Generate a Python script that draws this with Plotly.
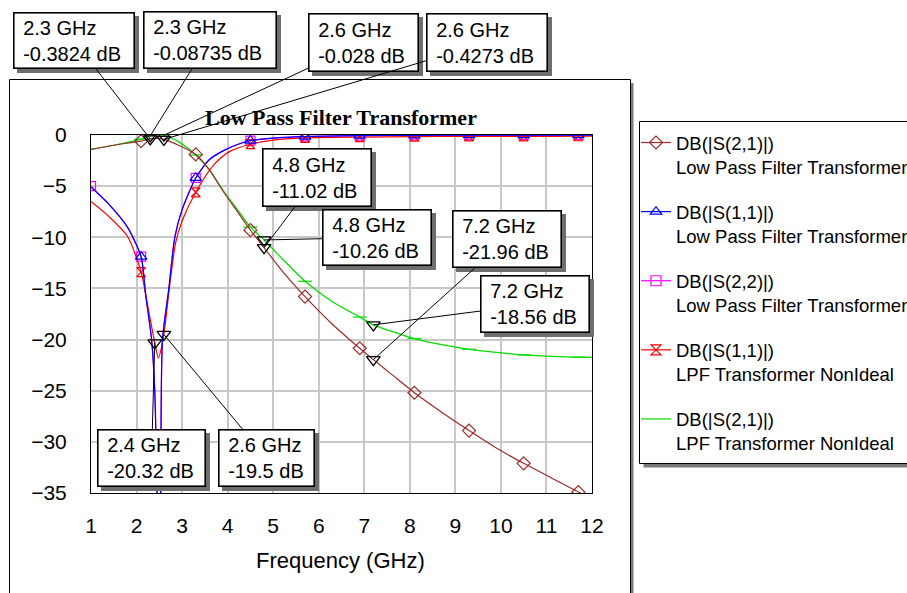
import plotly.graph_objects as go

SANS = "Liberation Sans, Arial, sans-serif"
SERIF = "Liberation Serif, Times New Roman, serif"

# ---------------------------------------------------------------- data
# Ideal model: "Low Pass Filter Transformer"
ideal_s21_f = [1.0, 1.5, 2.1, 2.3, 2.45, 2.6, 2.9, 3.3, 3.6, 3.9, 4.2, 4.5, 4.8,
               5.2, 5.7, 6.3, 6.9, 7.2, 7.6, 8.1, 8.7, 9.3, 9.9, 10.5, 11.1, 11.7, 12.0]
ideal_s21_db = [-1.4, -1.0, -0.6, -0.3824, -0.33, -0.4273, -0.95, -1.9, -3.4, -5.5, -7.4,
                -9.3, -11.02, -13.3, -15.8, -18.5, -20.85, -21.96, -23.4, -25.2, -27.1,
                -28.9, -30.6, -32.1, -33.5, -34.9, -35.5]

ideal_s11_f = [1.0, 1.4, 1.8, 2.1, 2.2, 2.33, 2.4, 2.45, 2.49, 2.53, 2.57, 2.71, 2.84,
               3.0, 3.3, 3.6, 3.9, 4.2, 4.5, 5.0, 5.7, 6.9, 8.1, 9.3, 10.5, 11.7, 12.0]
ideal_s11_db = [-5.1, -6.8, -9.0, -11.9, -15.6, -20.0, -25.0, -35.0, -45.0, -35.0, -20.0,
                -15.0, -10.0, -7.3, -4.2, -2.4, -1.55, -0.95, -0.55, -0.3, -0.15, -0.06,
                -0.03, -0.02, -0.01, -0.01, -0.01]

ideal_s22_f = [1.0, 1.4, 1.8, 2.1, 2.2, 2.33, 2.4, 2.45, 2.49, 2.53, 2.57, 2.71, 2.84,
               3.0, 3.3, 3.6, 3.9, 4.2, 4.5, 5.0, 5.7, 6.9, 8.1, 9.3, 10.5, 11.7, 12.0]
ideal_s22_db = [-5.0, -6.8, -9.0, -11.9, -15.6, -20.0, -25.0, -35.0, -45.0, -35.0, -20.0,
                -15.0, -10.0, -7.3, -4.2, -2.4, -1.55, -0.95, -0.55, -0.3, -0.15, -0.06,
                -0.03, -0.02, -0.01, -0.01, -0.01]

# Non-ideal model: "LPF Transformer NonIdeal"
nonideal_s11_f = [1.0, 1.4, 1.8, 2.1, 2.25, 2.4, 2.48, 2.6, 2.72, 2.86, 3.0, 3.3, 3.7,
                  4.05, 4.5, 5.0, 5.7, 6.9, 8.1, 9.3, 10.5, 11.7, 12.0]
nonideal_s11_db = [-6.5, -8.0, -9.9, -13.4, -16.8, -20.32, -21.8, -19.5, -15.0, -10.5,
                   -8.4, -5.6, -2.9, -1.6, -0.9, -0.5, -0.28, -0.2, -0.16, -0.14, -0.13,
                   -0.12, -0.12]

nonideal_s21_f = [1.0, 1.5, 2.1, 2.3, 2.6, 2.9, 3.3, 3.6, 3.9, 4.2, 4.5, 4.8, 5.2, 5.7,
                  6.3, 6.9, 7.2, 7.6, 8.1, 8.7, 9.3, 9.9, 10.5, 11.1, 11.7, 12.0]
nonideal_s21_db = [-1.4, -1.0, -0.4, -0.08735, -0.028, -0.6, -1.95, -3.4, -5.4, -7.2,
                   -9.0, -10.26, -12.1, -14.3, -16.3, -17.8, -18.56, -19.2, -19.9, -20.5,
                   -20.95, -21.25, -21.5, -21.65, -21.72, -21.75]

# frequencies carrying trace symbols
symbol_f = [2.1, 3.3, 4.5, 5.7, 6.9, 8.1, 9.3, 10.5, 11.7]
s22_symbol_f = [1.0] + symbol_f

# readout markers (frequency, value)
readout_f = [2.3, 2.3, 2.6, 2.6, 4.8, 4.8, 7.2, 7.2, 2.4, 2.6]
readout_db = [-0.3824, -0.08735, -0.028, -0.4273, -11.02, -10.26, -21.96, -18.56,
              -20.32, -19.5]

legend_names = [
    "DB(|S(2,1)|)<br>Low Pass Filter Transformer",
    "DB(|S(1,1)|)<br>Low Pass Filter Transformer",
    "DB(|S(2,2)|)<br>Low Pass Filter Transformer",
    "DB(|S(1,1)|)<br>LPF Transformer NonIdeal",
    "DB(|S(2,1)|)<br>LPF Transformer NonIdeal",
]

x_ticks = list(range(1, 13))
y_ticks = list(range(-35, 1, 5))

# ---------------------------------------------------------------- geometry
W, H = 907, 593
ML, MR, MT, MB = 91, 315, 135, 100
L, R, T, B = ML, W - MR, MT, H - MB
X0, X1, Y0, Y1 = 1, 12, -35, 0


def paper_x(px):
    return (px - L) / (R - L)


def paper_y(py):
    return (B - py) / (B - T)


def data_x(px):
    return X0 + (px - L) / (R - L) * (X1 - X0)


def data_y(py):
    return Y1 - (py - T) / (B - T) * (Y1 - Y0)


def pick(fs, dbs, marks):
    lookup = dict(zip(fs, dbs))
    return [lookup[m] for m in marks]


BROWN = "#9b2b2b"
BLUE = "#0000ff"
MAGENTA = "#ff00ff"
RED = "#ff0000"
GREEN = "#00dd00"

fig = go.Figure()

# legend entries
legend_styles = [
    (BROWN, "diamond-open", "lines+markers"),
    (BLUE, "triangle-up-open", "lines+markers"),
    (MAGENTA, "square-open", "lines+markers"),
    (RED, "hourglass-open", "lines+markers"),
    (GREEN, "line-ew-open", "lines"),
]
for i, (name, (col, sym, mode)) in enumerate(zip(legend_names, legend_styles)):
    fig.add_trace(go.Scatter(
        x=[None], y=[None], mode=mode, name=name, legendgroup=f"g{i}",
        line=dict(color=col, width=1.2),
        marker=dict(symbol=sym, size=10, color=col, line=dict(color=col, width=1.2)),
    ))

series = [
    (ideal_s22_f, ideal_s22_db, MAGENTA, "square-open", s22_symbol_f, 9),
    (nonideal_s11_f, nonideal_s11_db, RED, "hourglass-open", symbol_f, 9),
    (ideal_s11_f, ideal_s11_db, BLUE, "triangle-up-open", symbol_f, 10),
    (nonideal_s21_f, nonideal_s21_db, GREEN, "line-ew-open", symbol_f, 10),
    (ideal_s21_f, ideal_s21_db, BROWN, "diamond-open", symbol_f, 10),
]
for fs, dbs, col, sym, marks, size in series:
    fig.add_trace(go.Scatter(
        x=fs, y=dbs, mode="lines", showlegend=False, hoverinfo="skip",
        line=dict(color=col, width=1.2, shape="spline", smoothing=0.7),
    ))
    fig.add_trace(go.Scatter(
        x=marks, y=pick(fs, dbs, marks), mode="markers", showlegend=False,
        marker=dict(symbol=sym, size=size, color=col, line=dict(color=col, width=1.2)),
    ))

fig.add_trace(go.Scatter(
    x=readout_f, y=readout_db, mode="markers", showlegend=False,
    marker=dict(symbol="triangle-down-open", size=12, color="black",
                line=dict(color="black", width=1.3)),
))

# readout boxes (pixel rectangles)
box_rects = [
    (13, 12, 135, 69), (143, 11, 277, 69), (308, 13, 419, 72), (426, 13, 548, 72),
    (262, 148, 372, 207), (322, 209, 432, 266), (452, 210, 562, 268),
    (480, 275, 590, 333), (97, 429, 206, 487), (218, 429, 315, 487),
]
BW, PAD, SH = 1.6, 3, 4
annotations = []
shapes = []
for f, db, (x0, y0, x1, y1) in zip(readout_f, readout_db, box_rects):
    shapes.append(dict(type="rect", xref="paper", yref="paper", layer="above",
                       x0=paper_x(x0 + SH), x1=paper_x(x1 + SH),
                       y0=paper_y(y0 + SH), y1=paper_y(y1 + SH),
                       fillcolor="#6e6e6e", line=dict(width=0)))
    annotations.append(dict(
        x=f, y=db, xref="x", yref="y",
        ax=data_x((x0 + x1) / 2), ay=data_y((y0 + y1) / 2), axref="x", ayref="y",
        text=f"\u00a0{f} GHz<br>\u00a0{db} dB", align="left",
        showarrow=True, arrowhead=0, arrowwidth=1, arrowcolor="black",
        standoff=0, startstandoff=0,
        bgcolor="white", bordercolor="black", borderwidth=BW, borderpad=PAD,
        width=(x1 - x0) - 2 * (BW + PAD), height=(y1 - y0) - 2 * (BW + PAD),
        font=dict(family=SANS, size=20, color="black"),
    ))

# outer frame with its shadow
shapes.insert(0, dict(type="rect", xref="paper", yref="paper", layer="below",
                      x0=paper_x(9.5), x1=paper_x(630.5), y0=paper_y(640), y1=paper_y(79.5),
                      line=dict(color="black", width=1), fillcolor="rgba(0,0,0,0)"))
shapes.insert(1, dict(type="rect", xref="paper", yref="paper", layer="below",
                      x0=paper_x(631), x1=paper_x(633.5), y0=paper_y(640), y1=paper_y(83),
                      line=dict(width=0), fillcolor="#7a7a7a"))
# legend frame with its shadow
shapes.append(dict(type="rect", xref="paper", yref="paper", layer="above",
                   x0=paper_x(643.5), x1=paper_x(930), y0=paper_y(467.5), y1=paper_y(125.5),
                   line=dict(width=0), fillcolor="#7a7a7a"))
shapes.append(dict(type="rect", xref="paper", yref="paper", layer="above",
                   x0=paper_x(639.5), x1=paper_x(930), y0=paper_y(463.5), y1=paper_y(121.5),
                   line=dict(color="black", width=1), fillcolor="white"))

# chart title and x axis title
annotations.append(dict(text="<b>Low Pass Filter Transformer</b>", showarrow=False,
                        xref="paper", yref="paper", x=paper_x(341), y=paper_y(117),
                        xanchor="center", yanchor="middle",
                        font=dict(family=SERIF, size=22, color="black")))
annotations.append(dict(text="Frequency (GHz)", showarrow=False,
                        xref="paper", yref="paper", x=paper_x(340), y=paper_y(560),
                        xanchor="center", yanchor="middle",
                        font=dict(family=SANS, size=22, color="black")))

grid = dict(showgrid=True, gridcolor="#c8c8c8", gridwidth=1.5, zeroline=False,
            showline=True, linecolor="black", linewidth=1, mirror=True, ticks="",
            tickfont=dict(family=SANS, size=21, color="black"))

fig.update_layout(
    width=W, height=H,
    margin=dict(l=ML, r=MR, t=MT, b=MB, autoexpand=False),
    paper_bgcolor="white", plot_bgcolor="white",
    xaxis=dict(range=[X0, X1], tickvals=x_ticks, ticklabelstandoff=14, **grid),
    yaxis=dict(range=[Y0, Y1], tickvals=y_ticks, ticklabelstandoff=19, **grid),
    legend=dict(x=paper_x(636), y=paper_y(124), xanchor="left", yanchor="top",
                bgcolor="rgba(0,0,0,0)", borderwidth=0, valign="top", maxheight=500,
                tracegroupgap=18, font=dict(family=SANS, size=18.5, color="black")),
    shapes=shapes,
    annotations=annotations,
    showlegend=True,
)

fig.write_html("out.html")
